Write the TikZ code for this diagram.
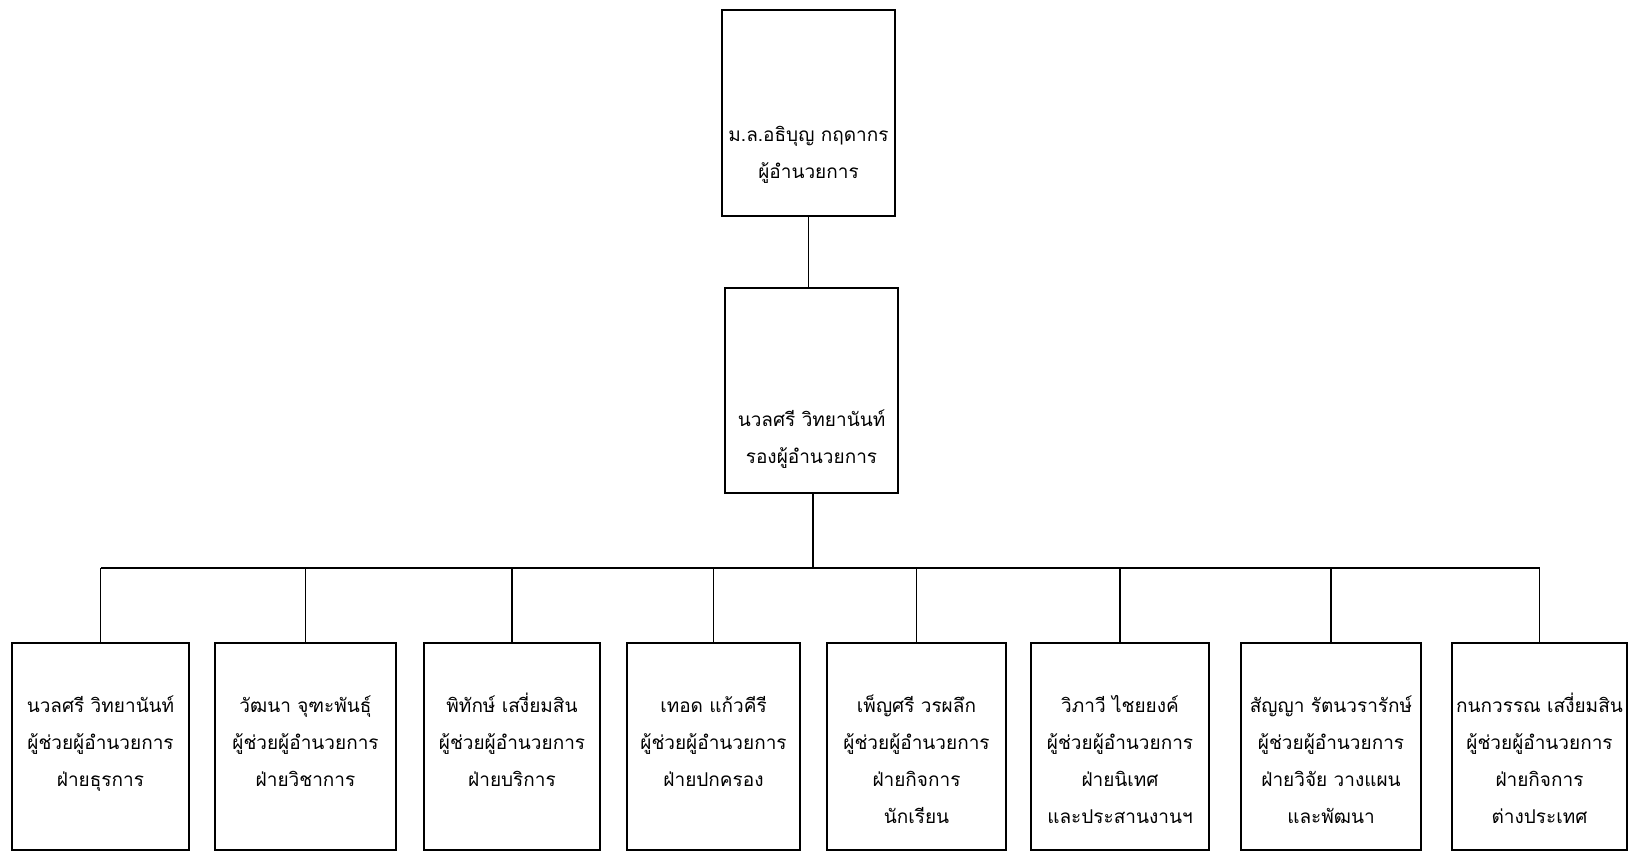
\documentclass[tikz,border=0pt]{standalone}
\usepackage{fontspec}
\newfontfamily\thai[Script=Thai]{Loma}
\begin{document}
\begin{tikzpicture}[x=1pt,y=-1pt,
  box/.style={draw,line width=1.5pt,inner sep=0pt,minimum height=207pt},
  txt/.style={font=\thai\fontsize{19}{37}\selectfont,align=center,inner sep=0pt,anchor=north},
  conn/.style={line width=1.4pt}]
\useasboundingbox (0,0) rectangle (1630,852);
% top levels
\node[box,minimum width=173pt,minimum height=206pt] (top) at (808.5,113) {};
\node[box,minimum width=173pt,minimum height=205pt] (dep) at (811.5,390.5) {};
\node[txt] (ttop) at (808.5,115) {\strut ม.ล.อธิบุญ กฤดากร\\ผู้อำนวยการ};
\node[txt] (tdep) at (811.5,400) {\strut นวลศรี วิทยานันท์\\รองผู้อำนวยการ};
% bottom boxes
\node[box,minimum width=177pt] (b1) at (100.5,746.5) {};
\node[box,minimum width=181pt] (b2) at (305.5,746.5) {};
\node[box,minimum width=176pt] (b3) at (512,746.5) {};
\node[box,minimum width=173pt] (b4) at (713.5,746.5) {};
\node[box,minimum width=179pt] (b5) at (916.5,746.5) {};
\node[box,minimum width=178pt] (b6) at (1120,746.5) {};
\node[box,minimum width=180pt] (b7) at (1331,746.5) {};
\node[box,minimum width=175pt] (b8) at (1539.5,746.5) {};
\node[txt] (t1) at (100.5,686) {\strut นวลศรี วิทยานันท์\\ผู้ช่วยผู้อำนวยการ\\ฝ่ายธุรการ};
\node[txt] (t2) at (305.5,686) {\strut วัฒนา จุฑะพันธุ์\\ผู้ช่วยผู้อำนวยการ\\ฝ่ายวิชาการ};
\node[txt] (t3) at (512,686) {\strut พิทักษ์ เสงี่ยมสิน\\ผู้ช่วยผู้อำนวยการ\\ฝ่ายบริการ};
\node[txt] (t4) at (713.5,686) {\strut เทอด แก้วคีรี\\ผู้ช่วยผู้อำนวยการ\\ฝ่ายปกครอง};
\node[txt] (t5) at (916.5,686) {\strut เพ็ญศรี วรผลึก\\ผู้ช่วยผู้อำนวยการ\\ฝ่ายกิจการ\\นักเรียน};
\node[txt] (t6) at (1120,686) {\strut วิภาวี ไชยยงค์\\ผู้ช่วยผู้อำนวยการ\\ฝ่ายนิเทศ\\และประสานงานฯ};
\node[txt] (t7) at (1331,686) {\strut สัญญา รัตนวรารักษ์\\ผู้ช่วยผู้อำนวยการ\\ฝ่ายวิจัย วางแผน\\และพัฒนา};
\node[txt] (t8) at (1539.5,686) {\strut กนกวรรณ เสงี่ยมสิน\\ผู้ช่วยผู้อำนวยการ\\ฝ่ายกิจการ\\ต่างประเทศ};
% connectors
\coordinate (bus) at (813,568);
\draw[conn] (top.south) -- (top.south |- dep.north);
\draw[conn] (bus |- dep.south) -- (bus);
\draw[conn] (b1.north |- bus) -- (b8.north |- bus);
\foreach \i in {1,...,8}{\draw[conn] (b\i.north |- bus) -- (b\i.north);}
\end{tikzpicture}
\end{document}
